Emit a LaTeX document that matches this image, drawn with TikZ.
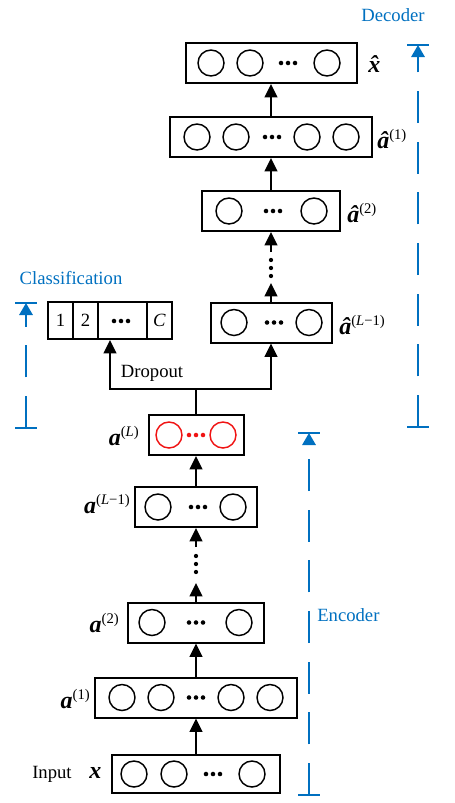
\documentclass[tikz,border=0pt]{standalone}
\usepackage{fontspec}
\setmainfont{Liberation Serif}
\usetikzlibrary{arrows.meta}
\definecolor{ofblue}{RGB}{0,112,192}
\definecolor{ofred}{RGB}{240,20,20}
% activation label: bold italic letter with small raised index
\newcommand{\actv}[2]{{\fontsize{18}{18}\selectfont\bfseries\itshape #1}\raisebox{6.5pt}{\fontsize{11}{11}\selectfont #2}}
% three dots between units
\newcommand{\unitdots}[3][black]{\foreach \dd in {-7,0,7} \fill[#1] (#2+\dd,#3) circle (1.7pt);}
\begin{document}
\begin{tikzpicture}[x=0.75pt,y=-0.75pt,
  layer/.style={draw, line width=1.5pt, inner sep=0pt, minimum height=30pt},
  unit/.style={circle, draw, line width=1.1pt, inner sep=0pt, minimum size=19.5pt},
  arr/.style={line width=1.5pt, -{Triangle[length=10pt,width=9.5pt]}},
  brk/.style={ofblue, line width=1.5pt, dash pattern=on 24pt off 14pt},
  brktick/.style={ofblue, line width=1.5pt},
  txt/.style={font=\fontsize{14}{16}\selectfont, inner sep=0pt},
]
\useasboundingbox (0,0) rectangle (454,803);

% Decoder
\node[layer, minimum width=128.25pt] (xhat) at (271,63) {};
\foreach \x [count=\i] in {211,250,327} \node[unit] (xhat-\i) at (\x,63) {};
\unitdots{288}{63}
\node[anchor=base west, inner sep=0pt] (xhat-lab) at (368,72) {\actv{\^{x}}{}};

\node[layer, minimum width=151.5pt] (ahat1) at (271,137) {};
\foreach \x [count=\i] in {197,236,307,346} \node[unit] (ahat1-\i) at (\x,137) {};
\unitdots{272}{137}
\node[anchor=base west, inner sep=0pt] (ahat1-lab) at (377,148) {\actv{\^{a}}{(1)}};

\node[layer, minimum width=103.5pt] (ahat2) at (271,211) {};
\foreach \x [count=\i] in {229,314} \node[unit] (ahat2-\i) at (\x,211) {};
\unitdots{273}{211}
\node[anchor=base west, inner sep=0pt] (ahat2-lab) at (347,222) {\actv{\^{a}}{(2)}};

\node[layer, minimum width=90.75pt] (ahatLm1) at (271,322.5) {};
\foreach \x [count=\i] in {234,309} \node[unit] (ahatLm1-\i) at (\x,322.5) {};
\unitdots{274}{322.5}
\node[anchor=base west, inner sep=0pt] (ahatLm1-lab) at (339,334) {\actv{\^{a}}{(\textit{L}−1)}};

% Classification
\node[layer, minimum width=93pt, minimum height=27.75pt] (cls) at (110,320.5) {};
\foreach \x in {73,98,147} \draw[line width=1.2pt] (\x,302) -- (\x,339);
\node[txt] (cls-1) at (60.5,320.5) {1};
\node[txt] (cls-2) at (85.5,320.5) {2};
\unitdots{121}{321}
\node[txt] (cls-C) at (159.5,320.5) {\textit{C}};

% Encoder
\node[layer, minimum width=71.25pt] (aL) at (196,435) {};
\foreach \x [count=\i] in {169,223} \node[unit, ofred] (aL-\i) at (\x,435) {};
\unitdots[ofred]{196}{435}
\node[anchor=base east, inner sep=0pt] (aL-lab) at (139,445) {\actv{a}{(\textit{L})}};

\node[layer, minimum width=91.5pt] (aLm1) at (196,507) {};
\foreach \x [count=\i] in {158,233} \node[unit] (aLm1-\i) at (\x,507) {};
\unitdots{198}{507}
\node[anchor=base east, inner sep=0pt] (aLm1-lab) at (130,513) {\actv{a}{(\textit{L}−1)}};

\node[layer, minimum width=102pt] (a2) at (196,622.5) {};
\foreach \x [count=\i] in {152,239} \node[unit] (a2-\i) at (\x,622.5) {};
\unitdots{196}{622.5}
\node[anchor=base east, inner sep=0pt] (a2-lab) at (119,632) {\actv{a}{(2)}};

\node[layer, minimum width=151.5pt] (a1) at (196,697.5) {};
\foreach \x [count=\i] in {122,161,231,270} \node[unit] (a1-\i) at (\x,697.5) {};
\unitdots{196}{697.5}
\node[anchor=base east, inner sep=0pt] (a1-lab) at (90,708) {\actv{a}{(1)}};

\node[layer, minimum width=126pt, minimum height=28.5pt] (x) at (196,774) {};
\foreach \x [count=\i] in {134,174,252} \node[unit] (x-\i) at (\x,774) {};
\unitdots{213}{774}
\node[txt, anchor=base west] (input) at (32,778) {Input};
\node[anchor=base west, inner sep=0pt] (x-lab) at (89,778) {\actv{x}{}};

% Connections
\coordinate (etop) at (196,547);
\coordinate (ebot) at (196,583);
\coordinate (dtop) at (271,252);
\coordinate (dbot) at (271,283);
\coordinate (split) at (196,389);
\draw[arr] (x.north) -- (a1.south);
\draw[arr] (a1.north) -- (a2.south);
\draw[arr] (a2.north) -- (ebot);
\foreach \y in {556,564,572} \fill (196,\y) circle (1.6pt);
\draw[arr] (etop) -- (aLm1.south);
\draw[arr] (aLm1.north) -- (aL.south);
\draw[line width=1.5pt] (aL.north) -- (split);
\draw[arr] (split) -| (cls.south);
\draw[arr] (split) -| (ahatLm1.south);
\node[txt] (dropout) at (152,373) {Dropout};
\draw[arr] (ahatLm1.north) -- (dbot);
\foreach \y in {260,268,276} \fill (271,\y) circle (1.6pt);
\draw[arr] (dtop) -- (ahat2.south);
\draw[arr] (ahat2.north) -- (ahat1.south);
\draw[arr] (ahat1.north) -- (xhat.south);

% Brackets
\coordinate (decT) at (418,45);
\coordinate (decB) at (418,427);
\draw[brk, -{Triangle[length=9pt,width=10pt]}] (decB) -- (decT);
\draw[brktick] ([xshift=-8pt]decT) -- ([xshift=8pt]decT);
\draw[brktick] ([xshift=-8pt]decB) -- ([xshift=8pt]decB);
\node[txt, ofblue] (dec-lab) at (393,15) {Decoder};

\coordinate (clsT) at (26,303);
\coordinate (clsB) at (26,428);
\draw[brk, -{Triangle[length=9pt,width=10pt]}] (clsB) -- (clsT);
\draw[brktick] ([xshift=-8pt]clsT) -- ([xshift=8pt]clsT);
\draw[brktick] ([xshift=-8pt]clsB) -- ([xshift=8pt]clsB);
\node[txt, ofblue] (cls-lab) at (71,278) {Classification};

\coordinate (encT) at (309,433);
\coordinate (encB) at (309,795);
\draw[brk, -{Triangle[length=9pt,width=10pt]}] (encB) -- (encT);
\draw[brktick] ([xshift=-8pt]encT) -- ([xshift=8pt]encT);
\draw[brktick] ([xshift=-8pt]encB) -- ([xshift=8pt]encB);
\node[txt, ofblue, anchor=west] (enc-lab) at (317,615) {Encoder};
\end{tikzpicture}
\end{document}
